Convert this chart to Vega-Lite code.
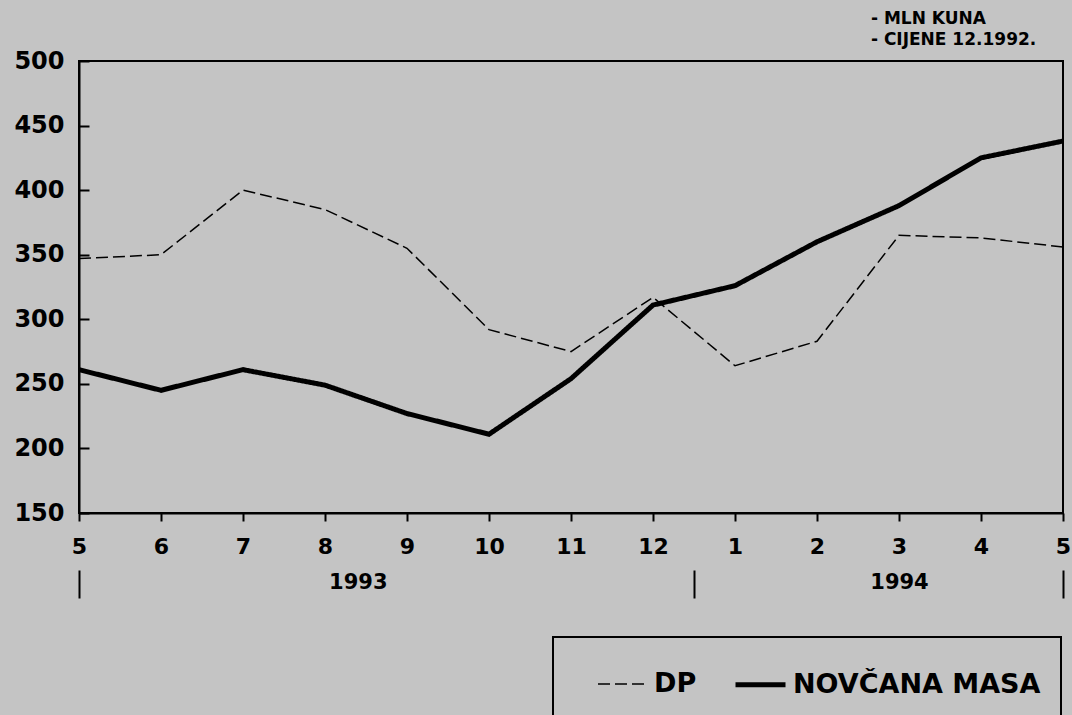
{
  "$schema": "https://vega.github.io/schema/vega-lite/v6.json",
  "width": 984,
  "height": 452,
  "autosize": {"type": "none"},
  "padding": {"left": 79, "top": 61, "right": 9, "bottom": 202},
  "background": "#c4c4c4",
  "config": {
    "font": "DejaVu Sans",
    "view": {"stroke": "black", "strokeWidth": 2},
    "axis": {
      "domainColor": "black",
      "domainWidth": 2,
      "tickColor": "black",
      "tickWidth": 2,
      "labelColor": "black",
      "labelFont": "DejaVu Sans",
      "labelFontWeight": "bold",
      "grid": false,
      "title": null
    },
    "legend": {
      "orient": "none",
      "legendX": 474,
      "legendY": 576,
      "direction": "horizontal",
      "title": null,
      "strokeColor": "black",
      "strokeWidth": 2,
      "padding": 20,
      "symbolOffset": 24,
      "symbolType": "stroke",
      "symbolSize": 2500,
      "symbolStrokeColor": "black",
      "labelFont": "DejaVu Sans",
      "labelFontSize": 27,
      "labelFontWeight": "bold",
      "labelColor": "black",
      "labelLimit": 400,
      "columnPadding": 12,
      "labelOffset": 5
    }
  },
  "title": {
    "text": ["- MLN KUNA", "- CIJENE 12.1992."],
    "anchor": "start",
    "align": "left",
    "dx": 857,
    "offset": 0,
    "font": "DejaVu Sans",
    "fontSize": 17,
    "fontWeight": "bold",
    "lineHeight": 21,
    "color": "black"
  },
  "datasets": {
    "series": [
      {"i": 0, "period": "5/1993", "series": "DP", "value": 347},
      {"i": 1, "period": "6/1993", "series": "DP", "value": 350},
      {"i": 2, "period": "7/1993", "series": "DP", "value": 400},
      {"i": 3, "period": "8/1993", "series": "DP", "value": 385},
      {"i": 4, "period": "9/1993", "series": "DP", "value": 355},
      {"i": 5, "period": "10/1993", "series": "DP", "value": 292},
      {"i": 6, "period": "11/1993", "series": "DP", "value": 275},
      {"i": 7, "period": "12/1993", "series": "DP", "value": 317},
      {"i": 8, "period": "1/1994", "series": "DP", "value": 264},
      {"i": 9, "period": "2/1994", "series": "DP", "value": 283},
      {"i": 10, "period": "3/1994", "series": "DP", "value": 365},
      {"i": 11, "period": "4/1994", "series": "DP", "value": 363},
      {"i": 12, "period": "5/1994", "series": "DP", "value": 356},
      {"i": 0, "period": "5/1993", "series": "NOVČANA MASA", "value": 261},
      {"i": 1, "period": "6/1993", "series": "NOVČANA MASA", "value": 245},
      {"i": 2, "period": "7/1993", "series": "NOVČANA MASA", "value": 261},
      {"i": 3, "period": "8/1993", "series": "NOVČANA MASA", "value": 249},
      {"i": 4, "period": "9/1993", "series": "NOVČANA MASA", "value": 227},
      {"i": 5, "period": "10/1993", "series": "NOVČANA MASA", "value": 211},
      {"i": 6, "period": "11/1993", "series": "NOVČANA MASA", "value": 254},
      {"i": 7, "period": "12/1993", "series": "NOVČANA MASA", "value": 311},
      {"i": 8, "period": "1/1994", "series": "NOVČANA MASA", "value": 326},
      {"i": 9, "period": "2/1994", "series": "NOVČANA MASA", "value": 360},
      {"i": 10, "period": "3/1994", "series": "NOVČANA MASA", "value": 388},
      {"i": 11, "period": "4/1994", "series": "NOVČANA MASA", "value": 425},
      {"i": 12, "period": "5/1994", "series": "NOVČANA MASA", "value": 438}
    ],
    "years": [
      {"year": "1993", "pos": 3.4},
      {"year": "1994", "pos": 10}
    ],
    "dividers": [
      {"pos": 0},
      {"pos": 7.5},
      {"pos": 12}
    ]
  },
  "layer": [
    {
      "data": {"name": "series"},
      "mark": {"type": "line", "color": "black"},
      "encoding": {
        "x": {
          "field": "i",
          "type": "quantitative",
          "scale": {"domain": [0, 12], "nice": false, "zero": false},
          "axis": {
            "orient": "bottom",
            "values": [0, 1, 2, 3, 4, 5, 6, 7, 8, 9, 10, 11, 12],
            "labelExpr": "datum.value <= 7 ? datum.value + 5 : datum.value - 7",
            "labelFontSize": 22,
            "tickSize": 8,
            "labelPadding": 15,
            "labelFlush": false,
            "labelOverlap": false
          }
        },
        "y": {
          "field": "value",
          "type": "quantitative",
          "scale": {"domain": [150, 500], "nice": false, "zero": false},
          "axis": {
            "values": [150, 200, 250, 300, 350, 400, 450, 500],
            "labelFontSize": 24,
            "tickSize": -10,
            "labelPadding": 25
          }
        },
        "strokeDash": {
          "field": "series",
          "type": "nominal",
          "scale": {"domain": ["DP", "NOVČANA MASA"], "range": [[12, 5], [1, 0]]}
        },
        "strokeWidth": {
          "field": "series",
          "type": "nominal",
          "scale": {"domain": ["DP", "NOVČANA MASA"], "range": [1.5, 5]}
        },
        "color": {"value": "black"}
      }
    },
    {
      "data": {"name": "years"},
      "mark": {"type": "point", "opacity": 0},
      "encoding": {
        "x": {
          "field": "pos",
          "type": "quantitative",
          "scale": {"domain": [0, 12], "nice": false, "zero": false},
          "axis": {
            "orient": "bottom",
            "values": [3.4, 10],
            "labelExpr": "datum.value < 7 ? '1993' : '1994'",
            "ticks": false,
            "domain": false,
            "offset": 56,
            "labelFontSize": 21,
            "labelPadding": 2
          }
        }
      }
    },
    {
      "data": {"name": "dividers"},
      "mark": {"type": "point", "opacity": 0},
      "encoding": {
        "x": {
          "field": "pos",
          "type": "quantitative",
          "scale": {"domain": [0, 12], "nice": false, "zero": false},
          "axis": {
            "orient": "bottom",
            "values": [0, 7.5, 12],
            "labels": false,
            "domain": false,
            "offset": 57,
            "tickSize": 28,
            "tickWidth": 2
          }
        }
      }
    }
  ],
  "resolve": {"scale": {"x": "independent"}}
}
